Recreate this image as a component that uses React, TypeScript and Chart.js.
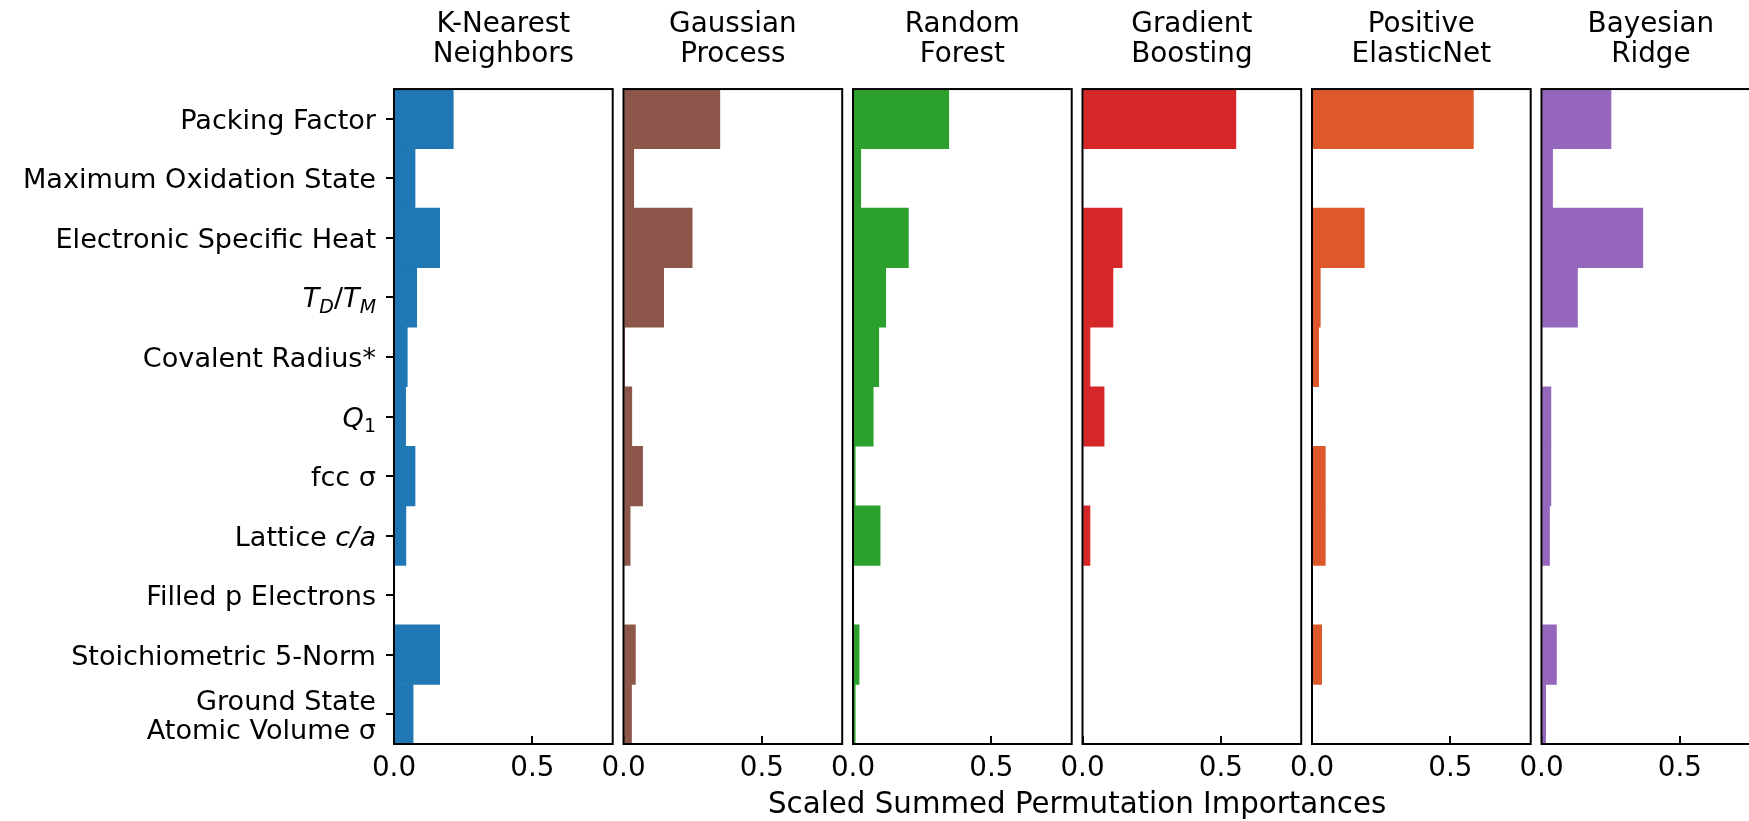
import React, { useEffect, useRef } from 'react';
import { Chart, registerables } from 'chart.js';

Chart.register(...registerables);

// ---------- data ----------
const categories: string[] = [
  'Packing Factor',
  'Maximum Oxidation State',
  'Electronic Specific Heat',
  'T_D/T_M',
  'Covalent Radius*',
  'Q_1',
  'fcc σ',
  'Lattice c/a',
  'Filled p Electrons',
  'Stoichiometric 5-Norm',
  'Ground State\nAtomic Volume σ',
];

const modelNames: string[] = [
  'K-Nearest\nNeighbors',
  'Gaussian\nProcess',
  'Random\nForest',
  'Gradient\nBoosting',
  'Positive\nElasticNet',
  'Bayesian\nRidge',
];

const knnValues: number[] = [0.214, 0.076, 0.165, 0.082, 0.048, 0.042, 0.076, 0.043, 0, 0.165, 0.069];
const gpValues: number[] = [0.348, 0.037, 0.248, 0.145, 0.003, 0.03, 0.069, 0.024, 0, 0.043, 0.029];
const rfValues: number[] = [0.346, 0.028, 0.2, 0.118, 0.093, 0.073, 0.008, 0.098, 0, 0.022, 0.008];
const gbValues: number[] = [0.554, 0, 0.143, 0.11, 0.027, 0.078, 0, 0.027, 0, 0, 0];
const enValues: number[] = [0.583, 0, 0.189, 0.03, 0.024, 0, 0.048, 0.048, 0, 0.035, 0];
const brValues: number[] = [0.251, 0.04, 0.366, 0.13, 0, 0.034, 0.034, 0.029, 0, 0.054, 0.015];

const seriesValues: number[][] = [knnValues, gpValues, rfValues, gbValues, enValues, brValues];

const xTickStep = 0.5;
const xMax = 0.79;
const xAxisTitle = 'Scaled Summed Permutation Importances';

// ---------- styles / layout ----------
const colors = ['#1f77b4', '#8c564b', '#2ca02c', '#d62728', '#dd582b', '#9467bd'];
const FONT = "'DejaVu Sans', 'Liberation Sans', sans-serif";
const FS = 27.8;
const FS_Y = 27.1;
const FS_XTITLE = 29.3;
const CANVAS_W = 1770;
const CANVAS_H = 821;
const PANEL_LEFT0 = 394;
const PANEL_PITCH = 229.5;
const PANEL_W = 218.7;
const X_AXIS_H = 77;
const Y_TICK_LEN = 8;
const Y_TICK_PAD = 10;
const Y_LABEL_SHIFT = 3;

type Seg = { t: string; it?: boolean; sub?: boolean };
const richLabels: Record<string, Seg[]> = {
  'T_D/T_M': [
    { t: 'T', it: true },
    { t: 'D', it: true, sub: true },
    { t: '/', it: false },
    { t: 'T', it: true },
    { t: 'M', it: true, sub: true },
  ],
  'Q_1': [{ t: 'Q', it: true }, { t: '1', sub: true }],
  'Lattice c/a': [{ t: 'Lattice ' }, { t: 'c', it: true }, { t: '/', it: true }, { t: 'a', it: true }],
};

const framePlugin = {
  id: 'frame',
  afterDatasetsDraw(chart: any) {
    const { ctx, chartArea } = chart;
    const { left, top, right, bottom } = chartArea;
    ctx.save();
    ctx.strokeStyle = '#000';
    ctx.lineWidth = 2;
    ctx.strokeRect(left, top, right - left, bottom - top);
    ctx.restore();
  },
};

const richLabelPlugin = {
  id: 'richLabels',
  afterDraw(chart: any) {
    const y = chart.scales.y;
    if (!y || !y.options.display) return;
    const ctx: CanvasRenderingContext2D = chart.ctx;
    const rightX = y.right - Y_TICK_LEN - Y_TICK_PAD;
    ctx.save();
    ctx.fillStyle = '#000';
    ctx.font = `${FS_Y}px ${FONT}`;
    ctx.textBaseline = 'middle';
    const m = ctx.measureText('T').actualBoundingBoxDescent;
    ctx.textBaseline = 'alphabetic';
    ctx.textAlign = 'left';
    const subSize = FS_Y * 0.7;
    const subShift = FS_Y * 0.2;
    categories.forEach((c, i) => {
      const segs = richLabels[c];
      if (!segs) return;
      const fontFor = (s: Seg) => `${s.it ? 'italic ' : ''}${s.sub ? subSize : FS_Y}px ${FONT}`;
      let total = 0;
      const widths = segs.map((s) => {
        ctx.font = fontFor(s);
        const w = ctx.measureText(s.t).width;
        total += w;
        return w;
      });
      const py = y.getPixelForValue(i) + Y_LABEL_SHIFT;
      const base = py + m;
      let x = rightX - total;
      segs.forEach((s, j) => {
        ctx.font = fontFor(s);
        ctx.fillText(s.t, x, s.sub ? base + subShift : base);
        x += widths[j];
      });
    });
    ctx.restore();
  },
};

function makeConfig(k: number): any {
  const isFirst = k === 0;
  const left = PANEL_LEFT0 + k * PANEL_PITCH;
  const labels = categories.map((c) => (c.includes('\n') ? c.split('\n') : c));
  return {
    type: 'bar',
    data: {
      labels,
      datasets: [
        {
          data: seriesValues[k],
          backgroundColor: colors[k],
          borderWidth: 0,
          categoryPercentage: 1,
          barPercentage: 1,
        },
      ],
    },
    options: {
      animation: false,
      responsive: false,
      events: [],
      indexAxis: 'y',
      layout: {
        padding: { left: isFirst ? 0 : left, right: CANVAS_W - (left + PANEL_W), top: 0, bottom: 0 },
      },
      plugins: {
        legend: { display: false },
        tooltip: { enabled: false },
        title: {
          display: true,
          fullSize: false,
          text: modelNames[k].split('\n'),
          color: '#000',
          font: { family: FONT, size: FS, weight: 'normal', lineHeight: 1.08 },
          padding: { top: 9.9, bottom: 19.1 },
        },
      },
      scales: {
        x: {
          type: 'linear',
          min: 0,
          max: xMax,
          afterFit: (s: any) => {
            s.height = X_AXIS_H;
            s.paddingLeft = 0;
            s.paddingRight = 0;
          },
          border: { display: false },
          grid: {
            display: true,
            drawOnChartArea: false,
            drawTicks: true,
            tickLength: -8,
            color: '#000',
            lineWidth: 2,
          },
          ticks: {
            stepSize: xTickStep,
            includeBounds: false,
            autoSkip: false,
            maxRotation: 0,
            padding: 16.3,
            color: '#000',
            font: { family: FONT, size: FS, lineHeight: 1.2 },
            callback: (v: any) => Number(v).toFixed(1),
          },
        },
        y: {
          type: 'category',
          display: isFirst,
          afterFit: (s: any) => {
            if (isFirst) s.width = left;
          },
          border: { display: false },
          grid: {
            display: true,
            offset: false,
            drawOnChartArea: false,
            drawTicks: true,
            tickLength: Y_TICK_LEN,
            color: '#000',
            lineWidth: 2,
          },
          ticks: {
            padding: Y_TICK_PAD,
            labelOffset: Y_LABEL_SHIFT,
            autoSkip: false,
            color: '#000',
            font: { family: FONT, size: FS_Y, lineHeight: 1.06 },
            callback: (_v: any, i: number) => {
              const c = categories[i];
              if (richLabels[c]) return '';
              return c.includes('\n') ? c.split('\n') : c;
            },
          },
        },
      },
    },
    plugins: isFirst ? [framePlugin, richLabelPlugin] : [framePlugin],
  };
}

export default function App() {
  const refs = useRef<(HTMLCanvasElement | null)[]>([]);

  useEffect(() => {
    const charts = refs.current.map((c, k) => (c ? new Chart(c, makeConfig(k)) : null));
    return () => {
      charts.forEach((ch) => ch && ch.destroy());
    };
  }, []);

  const figCenter = (PANEL_LEFT0 + PANEL_LEFT0 + 5 * PANEL_PITCH + PANEL_W) / 2;

  return (
    <div
      style={{
        position: 'fixed',
        left: 0,
        top: 0,
        width: 1749,
        height: 821,
        overflow: 'hidden',
        background: '#fff',
      }}
    >
      {modelNames.map((_, k) => (
        <canvas
          key={k}
          ref={(el) => {
            refs.current[k] = el;
          }}
          width={CANVAS_W}
          height={CANVAS_H}
          style={{ position: 'absolute', left: 0, top: 0, width: CANVAS_W, height: CANVAS_H }}
        />
      ))}
      <div
        style={{
          position: 'absolute',
          left: 0,
          width: figCenter * 2,
          top: 789,
          textAlign: 'center',
          fontFamily: FONT,
          fontSize: FS_XTITLE,
          lineHeight: 1,
          color: '#000',
          whiteSpace: 'nowrap',
        }}
      >
        {xAxisTitle}
      </div>
    </div>
  );
}
